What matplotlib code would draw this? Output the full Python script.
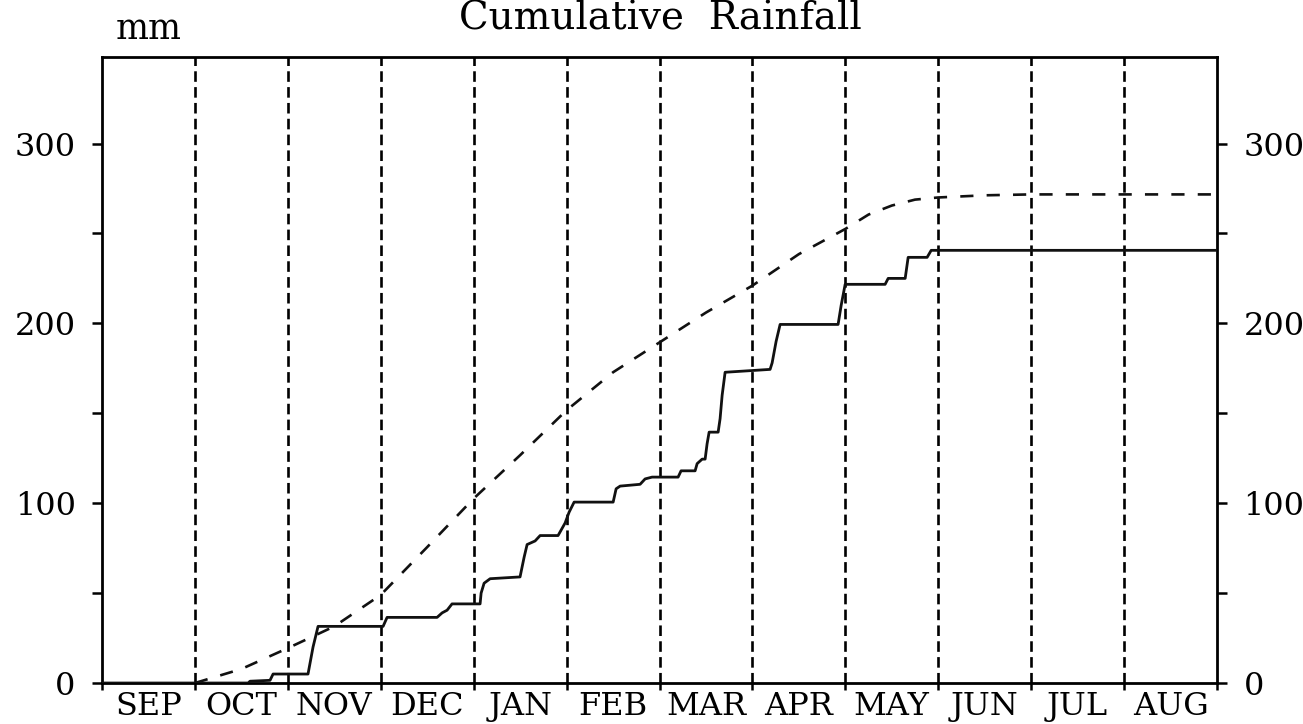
import matplotlib
matplotlib.use("Agg")
import matplotlib.pyplot as plt
from matplotlib.ticker import FixedLocator, NullFormatter

months = ["SEP", "OCT", "NOV", "DEC", "JAN", "FEB", "MAR", "APR", "MAY", "JUN", "JUL", "AUG"]

# Observed cumulative rainfall (x in months since 1 Sep, value in mm)
obs_x = [0.0, 1.572, 1.593, 1.808, 1.841, 2.217, 2.271, 2.325, 3.025, 3.068, 3.606, 3.660, 3.714, 3.767,
         4.069, 4.080, 4.112, 4.177, 4.499, 4.543, 4.575, 4.661, 4.715, 4.908, 4.984, 5.027, 5.081,
         5.501, 5.533, 5.576, 5.791, 5.845, 5.920, 6.200, 6.232, 6.383, 6.405, 6.459, 6.491, 6.512, 6.534,
         6.631, 6.652, 6.674, 6.706, 7.190, 7.212, 7.255, 7.298, 7.922, 7.955, 7.998, 8.428, 8.461,
         8.644, 8.676, 8.880, 8.924, 12.0]
obs_y = [0, 0, 1, 1.5, 5, 5, 20, 31.5, 31.5, 36.5, 36.5, 39, 40.5, 44,
         44, 50, 55.5, 58, 59, 70, 77, 79, 82, 82, 89, 95, 100.6,
         100.6, 108, 109.5, 110.5, 113.5, 114.5, 114.5, 118, 118, 122, 124.5, 124.5, 133, 139.5,
         139.5, 147, 160, 172.8, 174.4, 178, 190, 199.4, 199.4, 210, 221.7, 221.7, 225,
         225, 236.7, 236.7, 240.6, 240.6]

# Long-term mean cumulative rainfall
mean_x = [1.0, 1.5, 2.0, 2.5, 3.0, 3.5, 4.0, 4.5, 5.0, 5.5, 6.0, 6.5, 7.0, 7.5, 8.0, 8.25, 8.5, 8.75,
          9.0, 9.5, 10.0, 11.0, 12.0]
mean_y = [0, 7.8, 19.4, 31.5, 49, 75.6, 102.6, 126.7, 151.7, 172.8, 189.4, 206, 221, 238.5, 252.5, 260.5,
          265.5, 268.8, 270, 271.2, 271.7, 271.7, 271.7]

y_major = [0, 100, 200, 300]
y_minor = [50, 150, 250]

serif = "DejaVu Serif"
fig = plt.figure(figsize=(13.03, 7.24), dpi=100)
ax = fig.add_axes([0.0783, 0.0566, 0.8557, 0.8644])

for b in range(1, 12):
    ax.axvline(b, color="black", lw=1.9, dashes=(4.0, 2.0), zorder=1)

ax.plot(obs_x, obs_y, color="#111111", lw=2.0, zorder=3)
ax.plot(mean_x, mean_y, color="#111111", lw=1.9, dashes=(5, 5), zorder=2)

ax.set_xlim(0, 12)
ax.set_ylim(0, 348)

ax.xaxis.set_major_locator(FixedLocator(list(range(0, 13))))
ax.xaxis.set_major_formatter(NullFormatter())
ax.xaxis.set_minor_locator(FixedLocator([i + 0.5 for i in range(12)]))
ax.set_xticklabels(months, minor=True)
ax.tick_params(axis="x", which="major", direction="out", length=5, width=1.8)
ax.tick_params(axis="x", which="minor", length=0, pad=6, labelsize=23)

ax.yaxis.set_major_locator(FixedLocator(y_major))
ax.yaxis.set_minor_locator(FixedLocator(y_minor))
ax.tick_params(axis="y", which="both", direction="out", length=7, width=1.8,
               left=True, right=True, labelleft=True, labelright=True, labelsize=23)
ax.tick_params(axis="y", which="major", pad=12)

for lab in ax.get_xticklabels(minor=True):
    lab.set_fontfamily(serif)
for t in ax.yaxis.get_major_ticks():
    t.label1.set_fontfamily(serif)
    t.label2.set_fontfamily(serif)
    t.label2.set_fontsize(23)
    t.set_pad(12)

for s in ax.spines.values():
    s.set_linewidth(2.0)

fig.text(0.507, 0.974, "Cumulative  Rainfall", ha="center", va="center", fontsize=28, family=serif)
fig.text(0.114, 0.96, "mm", ha="center", va="center", fontsize=25, family=serif)

fig.savefig("out.png", dpi=100)
